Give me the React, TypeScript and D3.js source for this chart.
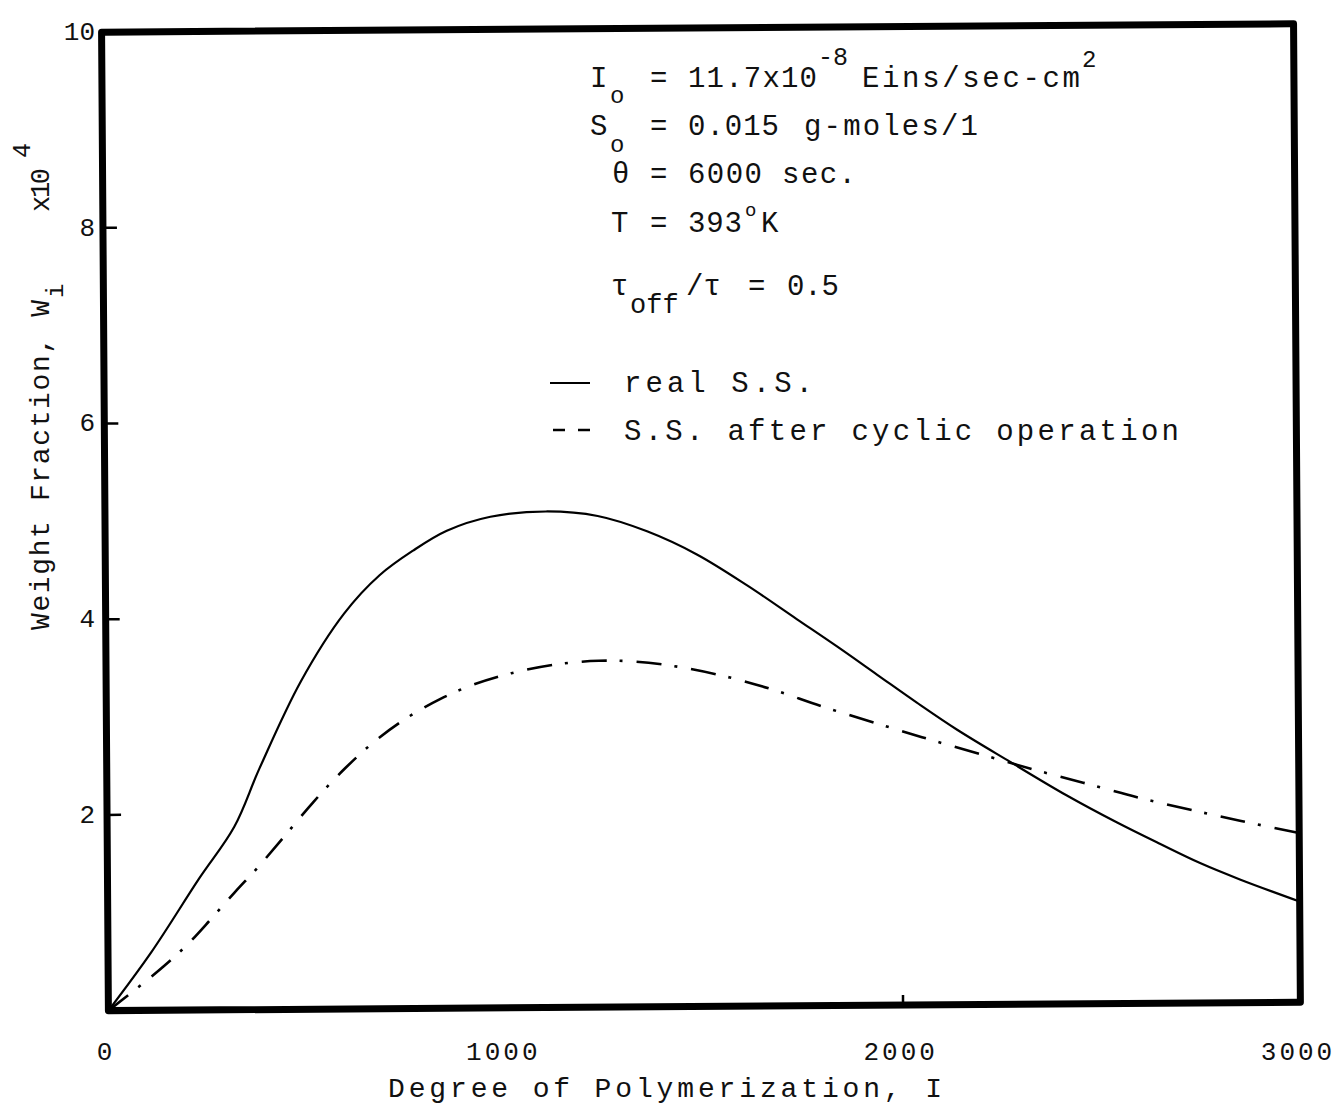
import React from 'react';
import * as d3 from 'd3';

// Solid curve: "real S.S."
const realI = [0, 110, 230, 320, 385, 490, 600, 690, 775, 860, 970, 1110, 1240, 1364, 1489, 1615, 1740, 1840, 1940, 2040, 2141, 2273, 2416, 2542, 2649, 2750, 2850, 3000];
const realW = [0, 0.6, 1.34, 1.87, 2.47, 3.35, 4.04, 4.43, 4.68, 4.88, 5.02, 5.07, 5.02, 4.86, 4.62, 4.3, 3.95, 3.67, 3.38, 3.09, 2.81, 2.48, 2.13, 1.85, 1.63, 1.43, 1.26, 1.03];

// Dash-dot curve: "S.S. after cyclic operation"
const cycI = [0, 70, 140, 200, 260, 320, 380, 440, 520, 600, 680, 760, 840, 920, 1020, 1140, 1240, 1330, 1445, 1570, 1680, 1800, 1955, 2090, 2223, 2331, 2457, 2600, 2743, 2851, 3000];
const cycW = [0, 0.22, 0.45, 0.67, 0.93, 1.2, 1.46, 1.74, 2.12, 2.46, 2.75, 2.98, 3.16, 3.3, 3.42, 3.51, 3.54, 3.53, 3.47, 3.36, 3.23, 3.06, 2.86, 2.69, 2.53, 2.4, 2.26, 2.1, 1.96, 1.86, 1.73];

const xTickValues = [0, 1000, 2000, 3000];
const xTickLabels = ['0', '1000', '2000', '3000'];
const yTickValues = [2, 4, 6, 8, 10];
const yTickLabels = ['2', '4', '6', '8', '10'];
const innerTicksY = [2, 4, 6, 8];
const innerTicksX = [2000];

const FONT = '"Liberation Mono", "DejaVu Sans Mono", monospace';

export default function App() {
  const L = 105, R = 1297, T = 28, B = 1006.5;
  const x = d3.scaleLinear().domain([0, 3000]).range([L, R]);
  const y = d3.scaleLinear().domain([0, 10]).range([B, T]);

  const mk = (xs: number[], ys: number[]) =>
    d3.line<number>()
      .x((_, i) => x(xs[i]))
      .y((_, i) => y(ys[i]))
      .curve(d3.curveCatmullRom.alpha(0.5))(xs);

  const realPath = mk(realI, realW) || '';
  const cycPath = mk(cycI, cycW) || '';

  const txt = { fontFamily: FONT, fill: '#111' } as const;

  return (
    <svg width={1338} height={1116} style={{ position: 'absolute', left: 0, top: 0, background: '#fff' }}>
      <rect x={0} y={0} width={1338} height={1116} fill="#fff" />
      <g transform="rotate(-0.4, 700, 520)">
        <path d={realPath} fill="none" stroke="#000" strokeWidth={2.2} />
        <path d={cycPath} fill="none" stroke="#000" strokeWidth={2.6} strokeDasharray="25 13 3 14" />
        {innerTicksY.map((v) => (
          <line key={'ty' + v} x1={L} x2={L + 14} y1={y(v)} y2={y(v)} stroke="#000" strokeWidth={2.5} />
        ))}
        {innerTicksX.map((v) => (
          <line key={'tx' + v} x1={x(v)} x2={x(v)} y1={B} y2={B - 10} stroke="#000" strokeWidth={2.5} />
        ))}
        <rect x={L} y={T} width={R - L} height={B - T} fill="none" stroke="#000" strokeWidth={7} strokeLinejoin="round" />
      </g>

      {/* y tick labels */}
      {yTickValues.map((v, i) => (
        <text key={'yl' + v} x={95} y={y(v) + 4 + 8} textAnchor="end" fontSize={26} {...txt}>
          {yTickLabels[i]}
        </text>
      ))}
      {/* x tick labels */}
      {xTickValues.map((v, i) => (
        <text key={'xl' + v} x={x(v) + 1} y={1060} textAnchor="middle" fontSize={26} letterSpacing={3} {...txt}>
          {xTickLabels[i]}
        </text>
      ))}

      {/* x axis title */}
      <text x={388} y={1097} fontSize={28} textLength={554} lengthAdjust="spacing" {...txt}>
        Degree of Polymerization, I
      </text>

      {/* y axis title */}
      <g transform="translate(49,630) rotate(-90)">
        <text x={0} y={0} fontSize={28} textLength={330} lengthAdjust="spacing" {...txt}>Weight Fraction, W</text>
      </g>
      <g transform="translate(63,298) rotate(-90)">
        <text x={0} y={0} fontSize={24} {...txt}>i</text>
      </g>
      <g transform="translate(49,212) rotate(-90)">
        <text x={0} y={0} fontSize={27} textLength={44} lengthAdjust="spacing" {...txt}>x10</text>
      </g>
      <g transform="translate(30,158) rotate(-90)">
        <text x={0} y={0} fontSize={25} {...txt}>4</text>
      </g>

      {/* annotation block */}
      <g fontSize={29} {...txt}>
        <text x={590} y={87}>I</text>
        <text x={610} y={103} fontSize={24}>o</text>
        <text x={650} y={87}>=</text>
        <text x={688} y={87} textLength={129} lengthAdjust="spacing">11.7x10</text>
        <text x={818} y={65} fontSize={25}>-8</text>
        <text x={862} y={87} textLength={218} lengthAdjust="spacing">Eins/sec-cm</text>
        <text x={1082} y={67} fontSize={24}>2</text>

        <text x={590} y={135}>S</text>
        <text x={610} y={152} fontSize={24}>o</text>
        <text x={650} y={135}>=</text>
        <text x={688} y={135} textLength={91} lengthAdjust="spacing">0.015</text>
        <text x={804} y={135} textLength={174} lengthAdjust="spacing">g-moles/1</text>

        <text x={612} y={183}>θ</text>
        <text x={650} y={183}>=</text>
        <text x={688} y={183} textLength={168} lengthAdjust="spacing">6000 sec.</text>

        <text x={611} y={232}>T</text>
        <text x={650} y={232}>=</text>
        <text x={688} y={232} textLength={54} lengthAdjust="spacing">393</text>
        <text x={745} y={216} fontSize={19}>o</text>
        <text x={761} y={232}>K</text>

        <text x={611} y={295}>τ</text>
        <text x={630} y={313} fontSize={27}>off</text>
        <text x={686} y={295}>/τ</text>
        <text x={748} y={295}>=</text>
        <text x={787} y={295} textLength={52} lengthAdjust="spacing">0.5</text>
      </g>

      {/* legend */}
      <line x1={550} x2={590} y1={383} y2={383} stroke="#000" strokeWidth={2.2} />
      <text x={624} y={392} fontSize={29} textLength={189} lengthAdjust="spacing" {...txt}>real S.S.</text>
      <line x1={553} x2={565} y1={430} y2={430} stroke="#000" strokeWidth={2.5} />
      <line x1={578} x2={590} y1={430} y2={430} stroke="#000" strokeWidth={2.5} />
      <text x={624} y={440} fontSize={29} textLength={555} lengthAdjust="spacing" {...txt}>S.S. after cyclic operation</text>
    </svg>
  );
}
